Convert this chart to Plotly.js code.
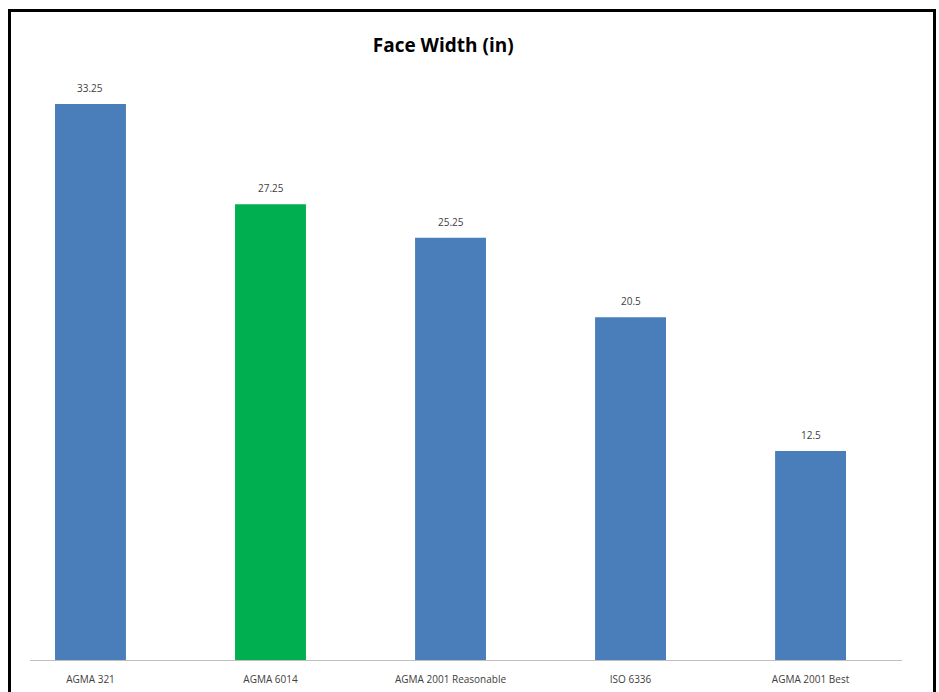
<!DOCTYPE html>
<html>
<head>
<meta charset="utf-8">
<script src="https://cdn.plot.ly/plotly-3.0.1.min.js"></script>
<style>
  html, body { margin: 0; padding: 0; background: #ffffff; }
  #wrap { position: relative; width: 939px; height: 692px; overflow: hidden; }
  #chart { position: absolute; left: 0; top: 0; width: 939px; height: 692px; }
  #frame {
    position: absolute; left: 8px; top: 9px; width: 922px; height: 700px;
    border: 3px solid #000000; pointer-events: none;
  }
</style>
</head>
<body>
<div id="wrap">
  <div id="chart"></div>
  <div id="frame"></div>
</div>
<script>
// Face width (in) by rating standard
const categories = ["AGMA 321", "AGMA 6014", "AGMA 2001 Reasonable", "ISO 6336", "AGMA 2001 Best"];
const faceWidth = [33.25, 27.25, 25.25, 20.5, 12.5];
const valueLabels = ["33.25", "27.25", "25.25", "20.5", "12.5"];
const barColors = ["#4a7ebb", "#00b050", "#4a7ebb", "#4a7ebb", "#4a7ebb"];

const FONT = "Open Sans, Liberation Sans, sans-serif";

const trace = {
  type: "bar",
  x: categories,
  y: faceWidth,
  marker: { color: barColors, line: { width: 0 } },
  width: 0.394,
  hoverinfo: "skip"
};

// value labels sit a little above each bar top
const valueAnnotations = categories.map((c, i) => ({
  x: c,
  y: faceWidth[i],
  xref: "x",
  yref: "y",
  text: valueLabels[i],
  showarrow: false,
  yanchor: "bottom",
  yshift: 7,
  font: { family: FONT, size: 10, color: "#404040" }
}));

const layout = {
  width: 939,
  height: 692,
  margin: { l: 30, r: 37, t: 60, b: 32 },
  paper_bgcolor: "#ffffff",
  plot_bgcolor: "#ffffff",
  showlegend: false,
  title: {
    text: "<b>Face Width (in)</b>",
    x: 0.472, xanchor: "center",
    y: 0.935, yanchor: "middle",
    font: { family: FONT, size: 19, color: "#000000" }
  },
  xaxis: {
    type: "category",
    range: [-0.336, 4.508],
    showline: true,
    linecolor: "#bfbfbf",
    linewidth: 1,
    ticks: "",
    ticklabelstandoff: 10,
    showgrid: false,
    zeroline: false,
    tickfont: { family: FONT, size: 10, color: "#404040" }
  },
  yaxis: {
    range: [0, 35.88],
    showgrid: false,
    zeroline: false,
    showline: false,
    showticklabels: false,
    ticks: ""
  },
  annotations: valueAnnotations
};

Plotly.newPlot("chart", [trace], layout, { displayModeBar: false, staticPlot: true });
</script>
</body>
</html>
